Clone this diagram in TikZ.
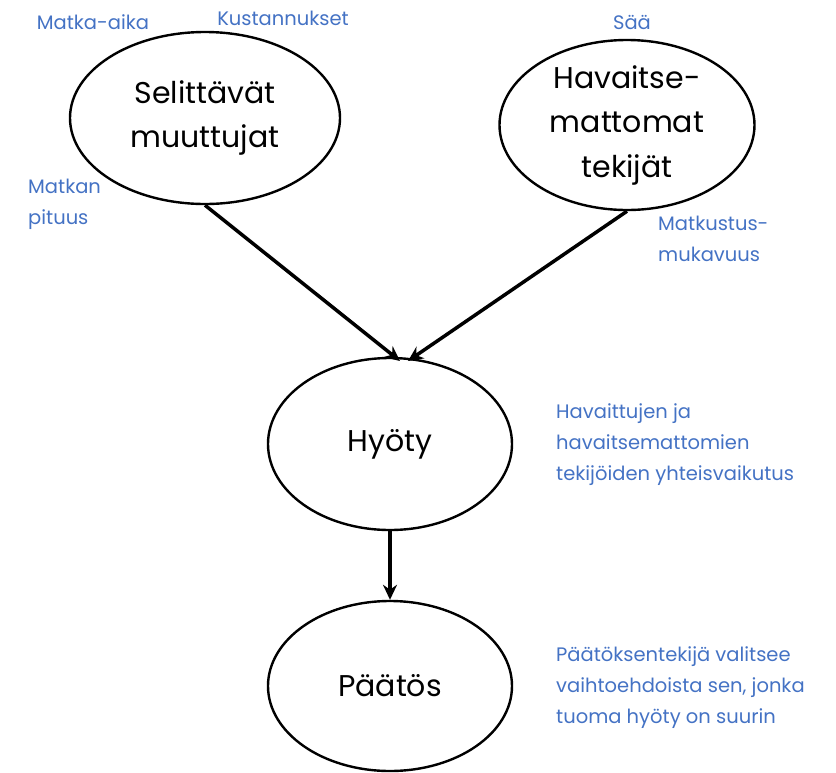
\documentclass[tikz,border=0pt]{standalone}
\usepackage{fontspec}
\setmainfont{Poppins}
\usetikzlibrary{shapes.geometric,arrows.meta}
\definecolor{labelblue}{RGB}{68,114,196}
\tikzset{
  factor/.style={draw=black, line width=2.4pt, ellipse, inner sep=0pt, align=center,
    font=\fontsize{30}{44.5}\selectfont},
  note/.style={text=labelblue, inner sep=0pt, align=left,
    font=\fontsize{19.5}{31}\selectfont},
  link/.style={line width=3.5pt, -{Stealth[length=15pt,width=14pt]}}
}
\begin{document}
\begin{tikzpicture}[x=1pt,y=-1pt]
  \useasboundingbox (0,0) rectangle (836,772);

  % factor nodes
  \node[factor, minimum width=270pt, minimum height=172pt] (sel) at (205,118)
    {Selittävät\\muuttujat};
  \node[factor, minimum width=255pt, minimum height=170pt] (hav) at (627,125)
    {Havaitse-\\mattomat\\tekijät};
  \node[factor, minimum width=244pt, minimum height=172pt] (hyo) at (390,444)
    {Hyöty};
  \node[factor, minimum width=244pt, minimum height=170pt] (pat) at (390,686)
    {Päätös};

  % arrow targets on top of the utility node
  \coordinate (inL) at (400,361);
  \coordinate (inR) at (408,361);

  \draw[link] (sel.south) -- (inL);
  \draw[link] (hav.south) -- (inR);
  \draw[link] (hyo.south) -- (pat.north);

  % labels
  \node[note, anchor=center] (l1) at (93,22) {Matka-aika};
  \node[note, anchor=center] (l2) at (283,18) {Kustannukset};
  \node[note, anchor=north west] (l3) at (28,179) {Matkan\\pituus};
  \node[note, anchor=center] (l4) at (632,22) {Sää};
  \node[note, anchor=north west] (l5) at (658,216) {Matkustus-\\mukavuus};
  \node[note, anchor=north west] (l6) at (556,403)
    {Havaittujen ja\\havaitsemattomien\\tekijöiden yhteisvaikutus};
  \node[note, anchor=north west] (l7) at (556,646)
    {Päätöksentekijä valitsee\\vaihtoehdoista sen, jonka\\tuoma hyöty on suurin};
\end{tikzpicture}
\end{document}
